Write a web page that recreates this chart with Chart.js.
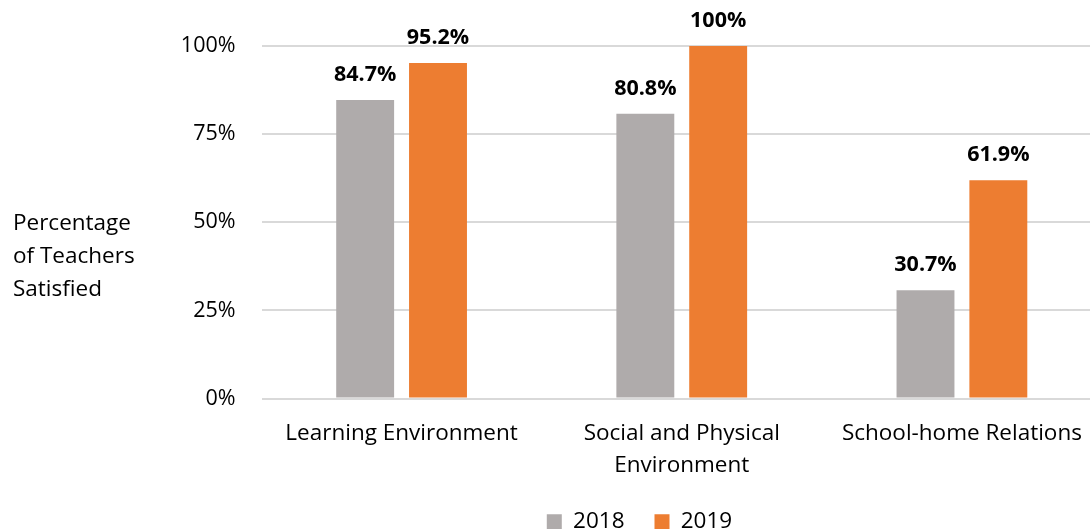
<!DOCTYPE html>
<html>
<head>
<meta charset="utf-8">
<script src="https://cdn.jsdelivr.net/npm/chart.js@4/dist/chart.umd.min.js"></script>
<style>
  html, body { margin: 0; padding: 0; overflow: hidden; background: #fff; }
  canvas { display: block; }
</style>
</head>
<body>
<canvas id="chart" width="1102" height="544"></canvas>
<script>
// --- Data ---
const categories = ['Learning Environment', ['Social and Physical', 'Environment'], 'School-home Relations'];
const seriesNames = ['2018', '2019'];
const values2018 = [84.7, 80.8, 30.7];
const values2019 = [95.2, 100, 61.9];
const yTicks = [0, 25, 50, 75, 100];
const yTitleLines = ['Percentage', 'of Teachers', 'Satisfied'];

const FONT = "'Open Sans', sans-serif";

// value labels above each bar
const barLabels = {
    id: 'barLabels',
    afterDatasetsDraw(chart) {
        const ctx = chart.ctx;
        ctx.save();
        ctx.font = "bold 21.5px " + FONT;
        ctx.fillStyle = '#000';
        ctx.textAlign = 'center';
        ctx.textBaseline = 'middle';
        chart.data.datasets.forEach((ds, i) => {
            chart.getDatasetMeta(i).data.forEach((bar, j) => {
                ctx.fillText(ds.data[j] + '%', bar.x, bar.y - 25);
            });
        });
        ctx.restore();
    }
};

// horizontal y-axis title on the left
const yTitle = {
    id: 'yTitle',
    afterDraw(chart) {
        const ctx = chart.ctx;
        const area = chart.chartArea;
        const mid = (area.top + area.bottom) / 2 + 34;
        ctx.save();
        ctx.font = "22.5px " + FONT;
        ctx.fillStyle = '#000';
        ctx.textAlign = 'left';
        ctx.textBaseline = 'middle';
        yTitleLines.forEach((line, i) => {
            ctx.fillText(line, 13, mid + (i - 1) * 33);
        });
        ctx.restore();
    }
};

new Chart(document.getElementById('chart'), {
    type: 'bar',
    data: {
        labels: categories,
        datasets: [
            { label: seriesNames[0], data: values2018, backgroundColor: '#AFABAB' },
            { label: seriesNames[1], data: values2019, backgroundColor: '#ED7D31' }
        ]
    },
    options: {
        responsive: false,
        devicePixelRatio: 1,
        animation: false,
        layout: { padding: { left: 177, right: 0, top: 46, bottom: 1 } },
        datasets: {
            bar: { categoryPercentage: 0.52, barPercentage: 0.795 }
        },
        scales: {
            x: {
                grid: { display: false },
                border: { display: false },
                ticks: { color: '#000', font: { family: FONT, size: 22.5, lineHeight: 1.43 }, padding: 11, maxRotation: 0, autoSkip: false },
                afterFit(scale) { scale.height = 82; }
            },
            y: {
                min: 0,
                max: 100,
                afterBuildTicks(scale) { scale.ticks = yTicks.map(v => ({ value: v })); },
                grid: { color: '#d9d9d9', lineWidth: 2, drawTicks: false },
                border: { display: false },
                ticks: {
                    color: '#000',
                    font: { family: FONT, size: 21.5 },
                    padding: 26,
                    callback: v => v + '%'
                },
                afterFit(scale) { scale.width = 84.5; }
            }
        },
        plugins: {
            legend: {
                position: 'bottom',
                labels: {
                    color: '#000',
                    font: { family: FONT, size: 22.5 },
                    boxWidth: 15,
                    boxHeight: 15,
                    padding: 30
                }
            },
            tooltip: { enabled: false }
        }
    },
    plugins: [barLabels, yTitle]
});
</script>
</body>
</html>
